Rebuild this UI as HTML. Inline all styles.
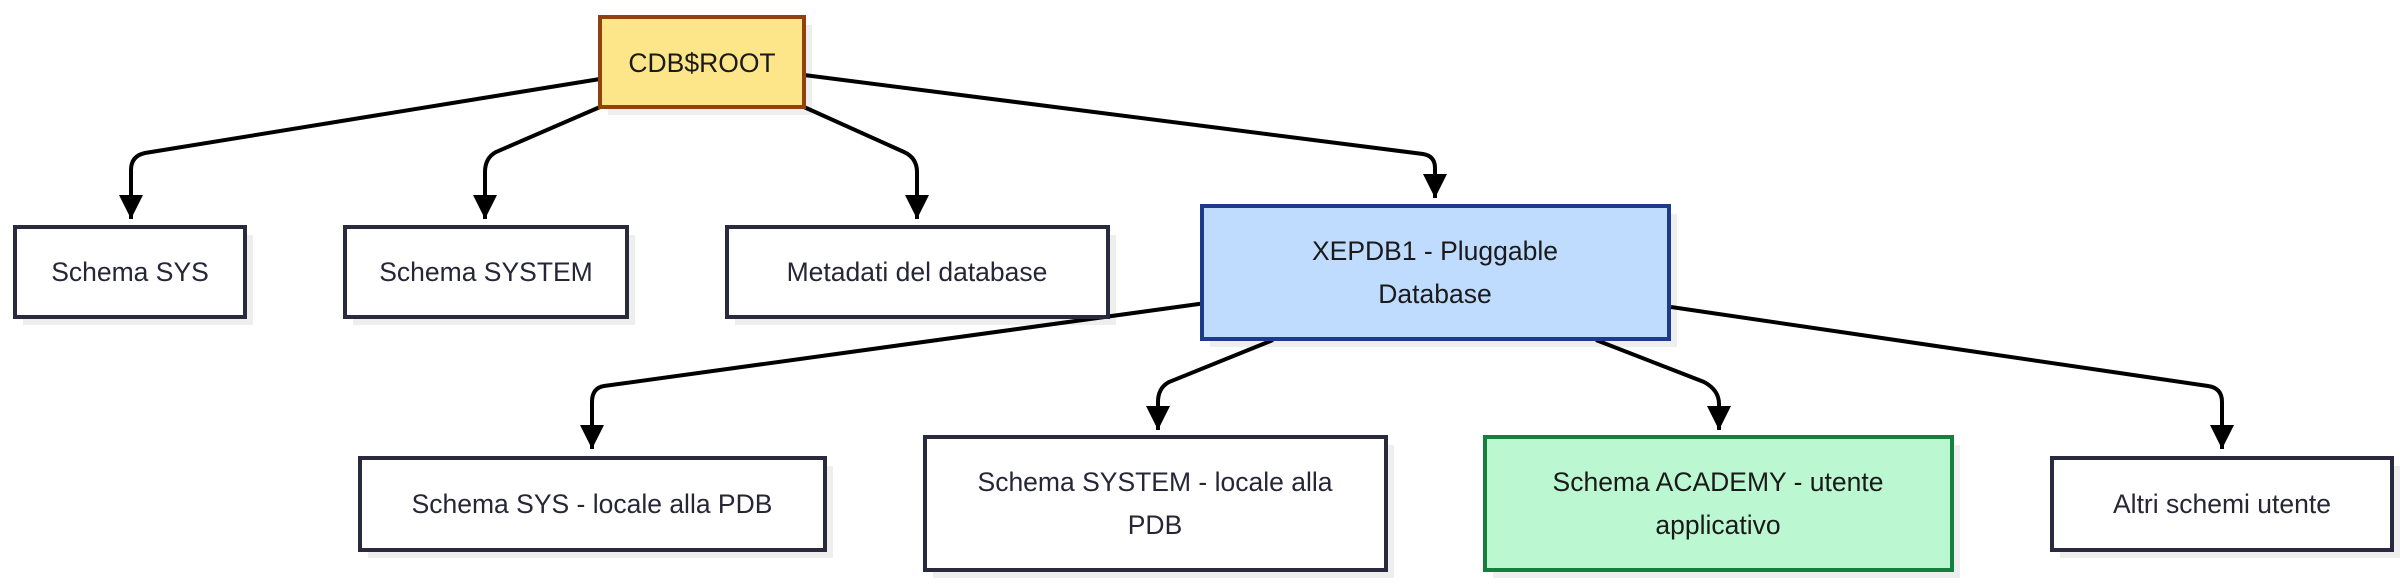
<!DOCTYPE html>
<html><head><meta charset="utf-8"><style>
html,body{margin:0;padding:0;background:#fff;}
svg{display:block;}
text{font-family:"Liberation Sans",sans-serif;font-size:26.5px;fill:#262637;}
</style></head><body>
<svg width="2400" height="586" viewBox="0 0 2400 586" xmlns="http://www.w3.org/2000/svg">
<defs>
<marker id="a" viewBox="0 0 10 10" refX="10" refY="5" markerWidth="6" markerHeight="6" markerUnits="strokeWidth" orient="auto">
<path d="M0,0 L10,5 L0,10 z" fill="#000"/></marker>
</defs>
<g fill="#eeeeee">
<rect x="608" y="25" width="204" height="90"/>
<rect x="23" y="235" width="230" height="90"/>
<rect x="353" y="235" width="282" height="90"/>
<rect x="735" y="235" width="381" height="90"/>
<rect x="1210" y="214" width="467" height="133"/>
<rect x="368" y="466" width="465" height="92"/>
<rect x="933" y="445" width="461" height="133"/>
<rect x="1493" y="445" width="467" height="133"/>
<rect x="2060" y="466" width="340" height="92"/>
</g>
<g fill="none" stroke="#000" stroke-width="4" marker-end="url(#a)">
<path d="M600,79 L145,153 Q131,156 131,170 L131,219"/>
<path d="M600,107 L496,152 Q485,158 485,172 L485,219"/>
<path d="M804,107 L904,152 Q917,158 917,172 L917,219"/>
<path d="M804,75 L1423,154 Q1435,156 1435,168 L1435,198"/>
<path d="M1206,303 L604,386 Q592,388 592,402 L592,449"/>
<path d="M1273,340 L1169,382 Q1158,388 1158,402 L1158,430"/>
<path d="M1596,340 L1704,382 Q1719,390 1719,404 L1719,430"/>
<path d="M1671,307 L2208,386 Q2222,388 2222,402 L2222,449"/>
</g>
<g stroke-width="4">
<rect x="600" y="17" width="204" height="90" fill="#fde68a" stroke="#92400e"/>
<rect x="15" y="227" width="230" height="90" fill="#fff" stroke="#2a2a3e"/>
<rect x="345" y="227" width="282" height="90" fill="#fff" stroke="#2a2a3e"/>
<rect x="727" y="227" width="381" height="90" fill="#fff" stroke="#2a2a3e"/>
<rect x="1202" y="206" width="467" height="133" fill="#bfdbfe" stroke="#1e3a8a"/>
<rect x="360" y="458" width="465" height="92" fill="#fff" stroke="#2a2a3e"/>
<rect x="925" y="437" width="461" height="133" fill="#fff" stroke="#2a2a3e"/>
<rect x="1485" y="437" width="467" height="133" fill="#bbf7d0" stroke="#15803d"/>
<rect x="2052" y="458" width="340" height="92" fill="#fff" stroke="#2a2a3e"/>
</g>
<g text-anchor="middle">
<text x="702" y="72" style="fill:#1a1a1a">CDB$ROOT</text>
<text x="130" y="281">Schema SYS</text>
<text x="486" y="281">Schema SYSTEM</text>
<text x="917" y="281">Metadati del database</text>
<text x="1435" y="260" style="fill:#1a1a1a">XEPDB1 - Pluggable</text>
<text x="1435" y="303" style="fill:#1a1a1a">Database</text>
<text x="592" y="513">Schema SYS - locale alla PDB</text>
<text x="1155" y="491">Schema SYSTEM - locale alla</text>
<text x="1155" y="534">PDB</text>
<text x="1718" y="491" style="fill:#1a1a1a">Schema ACADEMY - utente</text>
<text x="1718" y="534" style="fill:#1a1a1a">applicativo</text>
<text x="2222" y="513">Altri schemi utente</text>
</g>
</svg>
</body></html>
